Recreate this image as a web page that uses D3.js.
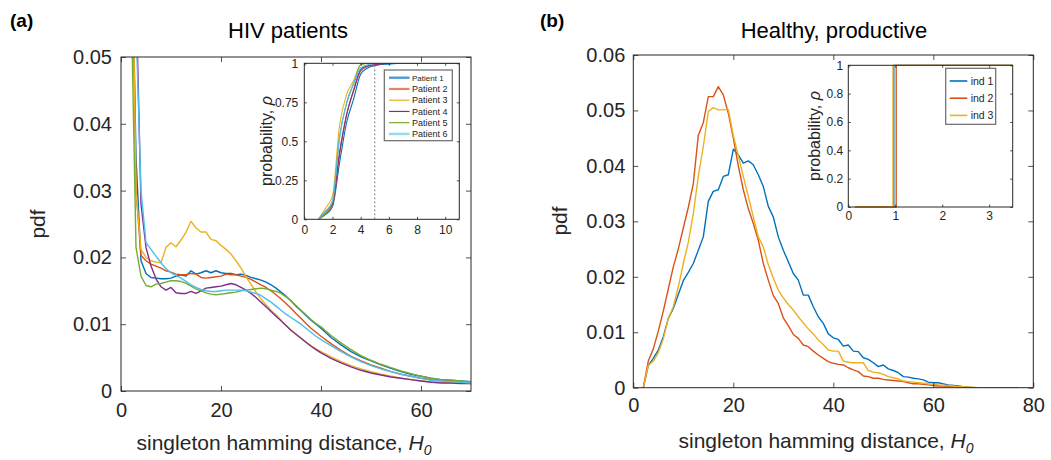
<!DOCTYPE html>
<html>
<head>
<meta charset="utf-8">
<script src="https://cdn.jsdelivr.net/npm/d3@7"></script>
<style>
  body { margin: 0; background: #fff; }
  svg { display: block; }
</style>
</head>
<body>
<svg id="fig" width="1051" height="460"></svg>
<script>
// ---------------- data ----------------
// (a) singleton Hamming distance pdf, HIV patients
const hivH = [1,2,3,4,5,6,7,8,9,10,11,12,13,14,15,16,17,18,19,20,21,22,23,24,25,26,27,28,29,30,31,32,33,34,35,36,37,38,39,40,42,44,46,48,50,52,54,56,58,60,62,64,66,68,70];
const patientNames = ["Patient 1","Patient 2","Patient 3","Patient 4","Patient 5","Patient 6"];
const patient1 = [0.2,0.075,0.035,0.0195,0.0176,0.0170,0.0169,0.0168,0.0168,0.0169,0.0172,0.0174,0.0172,0.0180,0.0175,0.0177,0.0180,0.0177,0.0180,0.0177,0.0176,0.0176,0.0174,0.0175,0.0173,0.0170,0.0168,0.0166,0.0163,0.0159,0.0154,0.0148,0.0142,0.0135,0.0127,0.0120,0.0113,0.0106,0.0100,0.0094,0.0080,0.0069,0.0059,0.0051,0.0045,0.0039,0.0034,0.0029,0.0025,0.0022,0.0019,0.0017,0.0016,0.0015,0.0014];
const patient2 = [0.2,0.08,0.030,0.0203,0.0195,0.0190,0.0187,0.0184,0.0180,0.0178,0.0175,0.0174,0.0174,0.0176,0.0175,0.0170,0.0169,0.0170,0.0171,0.0172,0.0175,0.0174,0.0174,0.0172,0.0170,0.0167,0.0163,0.0159,0.0155,0.0150,0.0144,0.0138,0.0131,0.0124,0.0116,0.0109,0.0101,0.0094,0.0088,0.0082,0.0071,0.0061,0.0052,0.0045,0.0039,0.0034,0.0029,0.0025,0.0022,0.0019,0.0017,0.0016,0.0015,0.0014,0.0013];
const patient3 = [0.2,0.08,0.030,0.0212,0.0200,0.0195,0.0193,0.0192,0.0215,0.0222,0.0216,0.0226,0.0238,0.0254,0.0244,0.0238,0.0238,0.0227,0.0225,0.0218,0.0212,0.0205,0.0195,0.0184,0.0171,0.0160,0.0148,0.0138,0.0129,0.0121,0.0114,0.0106,0.0098,0.0091,0.0085,0.0079,0.0073,0.0068,0.0063,0.0059,0.0051,0.0044,0.0038,0.0033,0.0029,0.0025,0.0022,0.0019,0.0017,0.0015,0.0014,0.0013,0.0012,0.0012,0.0011];
const patient4 = [0.2,0.12,0.06,0.028,0.0215,0.0187,0.0168,0.0156,0.0151,0.0155,0.0147,0.0146,0.0146,0.0149,0.0146,0.0150,0.0154,0.0155,0.0156,0.0157,0.0159,0.0161,0.0159,0.0155,0.0151,0.0146,0.0140,0.0133,0.0126,0.0119,0.0112,0.0105,0.0098,0.0091,0.0085,0.0079,0.0073,0.0067,0.0062,0.0057,0.0049,0.0042,0.0036,0.0031,0.0027,0.0024,0.0021,0.0019,0.0017,0.0015,0.0013,0.0012,0.0012,0.0011,0.0011];
const patient5 = [0.2,0.06,0.0215,0.0172,0.0158,0.0156,0.0160,0.0161,0.0163,0.0165,0.0165,0.0164,0.0161,0.0157,0.0153,0.0150,0.0147,0.0145,0.0144,0.0145,0.0146,0.0147,0.0148,0.0150,0.0151,0.0152,0.0153,0.0154,0.0153,0.0151,0.0149,0.0146,0.0141,0.0135,0.0128,0.0121,0.0114,0.0107,0.0101,0.0096,0.0083,0.0072,0.0062,0.0053,0.0046,0.0040,0.0035,0.0030,0.0026,0.0022,0.0019,0.0017,0.0016,0.0015,0.0014];
const patient6 = [0.2,0.1,0.055,0.030,0.0222,0.0212,0.0202,0.0192,0.0183,0.0177,0.0173,0.0169,0.0164,0.0159,0.0155,0.0152,0.0150,0.0149,0.0149,0.0150,0.0151,0.0151,0.0151,0.0151,0.0150,0.0148,0.0146,0.0143,0.0138,0.0133,0.0127,0.0121,0.0115,0.0110,0.0105,0.0100,0.0094,0.0088,0.0082,0.0077,0.0068,0.0059,0.0051,0.0044,0.0038,0.0033,0.0029,0.0025,0.0022,0.0019,0.0016,0.0015,0.0014,0.0013,0.0012];

// (a) inset: cumulative probability vs threshold
const cdfX = [1,1.5,2,2.5,3,3.5,4,4.5,5,6,7,8,11];
const cdf1 = [0,0.03,0.08,0.36,0.62,0.77,0.93,0.97,0.985,0.995,1,1,1];
const cdf2 = [0,0.04,0.09,0.41,0.67,0.82,0.95,0.98,0.99,1,1,1,1];
const cdf3 = [0,0.07,0.15,0.60,0.80,0.89,0.99,1,1,1,1,1,1];
const cdf4 = [0,0.05,0.10,0.43,0.67,0.83,0.96,0.985,0.99,1,1,1,1];
const cdf5 = [0,0.04,0.11,0.53,0.74,0.87,0.99,1,1,1,1,1,1];
const cdf6 = [0,0.05,0.12,0.52,0.75,0.87,0.97,0.99,1,1,1,1,1];
const cdfThreshold = 5;

// (b) singleton Hamming distance pdf, healthy individuals
const healthyH = [2,3,4,5,6,7,8,9,10,11,12,13,14,15,16,17,18,19,20,21,22,23,24,25,26,27,28,29,30,31,32,33,34,35,36,37,38,39,40,41,42,43,44,45,46,47,48,49,50,51,52,53,54,55,56,57,58,59,60,61,62,63,64,65,66,67,68,69,70,71,72,73,74,75,76,77];
const indNames = ["ind 1","ind 2","ind 3"];
const ind1 = [0,0.0040,0.0053,0.0068,0.0092,0.0125,0.0143,0.0168,0.0193,0.0208,0.0224,0.0248,0.0272,0.0336,0.0354,0.0357,0.0381,0.0384,0.0430,0.0420,0.0405,0.0409,0.0402,0.0384,0.0363,0.0327,0.0308,0.0272,0.0248,0.0227,0.0206,0.0194,0.0167,0.0167,0.0146,0.0128,0.0116,0.0097,0.0090,0.0087,0.0075,0.0077,0.0066,0.0065,0.0054,0.0051,0.0045,0.0038,0.0041,0.0034,0.0031,0.0027,0.0020,0.0019,0.0017,0.0016,0.0014,0.0010,0.0009,0.0009,0.0007,0.0005,0.0004,0.0003,0.0002,0.0001,0];
const ind2 = [0,0.0048,0.0070,0.0102,0.0138,0.0178,0.0218,0.0250,0.0288,0.0325,0.0368,0.0455,0.0478,0.0525,0.0525,0.0543,0.0528,0.0495,0.0450,0.0400,0.0357,0.0323,0.0296,0.0266,0.0224,0.0194,0.0166,0.0152,0.0126,0.0112,0.0096,0.0089,0.0077,0.0074,0.0066,0.0059,0.0053,0.0047,0.0044,0.0042,0.0041,0.0036,0.0032,0.0029,0.0021,0.0020,0.0017,0.0017,0.0015,0.0014,0.0013,0.0012,0.0011,0.0009,0.0007,0.0007,0.0006,0.0005,0.0004,0.0003,0.0003,0.0002,0.0002,0.0001,0.0001,0,0,0,0,0,0,0,0,0,0,0];
const ind3 = [0,0.0040,0.0048,0.0063,0.0088,0.0125,0.0146,0.0182,0.0224,0.0262,0.0314,0.0381,0.0435,0.0498,0.0505,0.0501,0.0501,0.0502,0.0455,0.0418,0.0381,0.0345,0.0308,0.0272,0.0254,0.0222,0.0198,0.0176,0.0162,0.0150,0.0140,0.0128,0.0117,0.0106,0.0097,0.0086,0.0078,0.0068,0.0066,0.0066,0.0048,0.0046,0.0045,0.0045,0.0045,0.0031,0.0028,0.0027,0.0024,0.0020,0.0018,0.0016,0.0012,0.0011,0.0010,0.0009,0.0008,0.0007,0.0006,0.0005,0.0004,0.0004,0.0003,0.0002,0.0002,0.0001,0.0001,0,0,0,0,0];

// (b) inset: step-shaped cumulative probability
const stepX1 = [0.14,0.97,0.97,3.5];
const stepX2 = [0.14,1.02,1.02,3.5];
const stepX3 = [0.14,0.95,0.95,3.5];
const stepY = [0,0,1,1];

// tick values and labels
const ticksAX = [0,20,40,60];
const ticksAY = [0,0.01,0.02,0.03,0.04,0.05];
const labelsAY = ["0","0.01","0.02","0.03","0.04","0.05"];
const ticksAinX = [0,2,4,6,8,10];
const ticksAinY = [0,0.25,0.5,0.75,1];
const labelsAinY = ["0","0.25","0.5","0.75","1"];
const ticksBX = [0,20,40,60,80];
const ticksBY = [0,0.01,0.02,0.03,0.04,0.05,0.06];
const labelsBY = ["0","0.01","0.02","0.03","0.04","0.05","0.06"];
const ticksBinX = [0,1,2,3];
const ticksBinY = [0,0.2,0.4,0.6,0.8,1];
const labelsBinY = ["0","0.2","0.4","0.6","0.8","1"];

const lineColors = ["#0072BD","#D95319","#EDB120","#7E2F8E","#77AC30","#4DBEEE"];

// ---------------- drawing ----------------
const FONT = '"Liberation Sans", Arial, Helvetica, sans-serif';
const INK = "#262626";
const svg = d3.select("#fig").attr("font-family", FONT);
const defs = svg.append("defs");

function makeScales(box, xDom, yDom) {
  return {
    x: d3.scaleLinear().domain(xDom).range([box.x0, box.x1]),
    y: d3.scaleLinear().domain(yDom).range([box.y1, box.y0])
  };
}

function clipFor(id, box) {
  defs.append("clipPath").attr("id", id).append("rect")
    .attr("x", box.x0).attr("y", box.y0)
    .attr("width", box.x1 - box.x0).attr("height", box.y1 - box.y0);
  return `url(#${id})`;
}

function drawLines(g, sc, xs, seriesList, colors, width, curve) {
  seriesList.forEach((vals, i) => {
    const pts = vals.map((v, j) => [xs[j], v]);
    const line = d3.line().x(d => sc.x(d[0])).y(d => sc.y(d[1]));
    if (curve) line.curve(curve);
    g.append("path").attr("d", line(pts))
      .attr("fill", "none").attr("stroke", colors[i])
      .attr("stroke-width", width).attr("stroke-linejoin", "round");
  });
}

function drawAxes(g, sc, o) {
  const [x0, x1] = sc.x.range();
  const [y1, y0] = sc.y.range();
  g.append("g").attr("transform", `translate(0,${y1})`)
    .call(d3.axisBottom(sc.x).tickValues(o.xt).tickFormat(d => String(d))
      .tickSize(-o.tl).tickSizeOuter(0).tickPadding(o.xpad));
  g.append("g").attr("transform", `translate(0,${y0})`)
    .call(d3.axisTop(sc.x).tickValues(o.xt).tickFormat("").tickSize(-o.tl).tickSizeOuter(0));
  g.append("g").attr("transform", `translate(${x0},0)`)
    .call(d3.axisLeft(sc.y).tickValues(o.yt).tickFormat((d, i) => o.yl[i])
      .tickSize(-o.tl).tickSizeOuter(0).tickPadding(o.ypad));
  g.append("g").attr("transform", `translate(${x1},0)`)
    .call(d3.axisRight(sc.y).tickValues(o.yt).tickFormat("").tickSize(-o.tl).tickSizeOuter(0));
  g.selectAll(".domain").remove();
  g.selectAll(".tick line").attr("stroke", INK).attr("stroke-width", 0.8);
  g.selectAll(".tick text").attr("fill", INK).attr("font-size", o.fs).attr("font-family", FONT);
  g.append("rect").attr("x", x0).attr("y", y0).attr("width", x1 - x0).attr("height", y1 - y0)
    .attr("fill", "none").attr("stroke", INK).attr("stroke-width", 1);
}

function xLabel(x, y) {
  const t = svg.append("text").attr("x", x).attr("y", y).attr("text-anchor", "middle")
    .attr("font-size", 21).attr("fill", INK);
  t.append("tspan").text("singleton hamming distance, ");
  t.append("tspan").attr("font-style", "italic").text("H");
  t.append("tspan").attr("font-style", "italic").attr("font-size", 14).attr("dy", 5).text("0");
}

function rotLabel(cx, cy, size, parts) {
  const t = svg.append("text").attr("transform", `translate(${cx},${cy}) rotate(-90)`)
    .attr("text-anchor", "middle").attr("dy", "0.35em").attr("font-size", size).attr("fill", INK);
  parts.forEach(p => t.append("tspan").attr("font-style", p.italic ? "italic" : null).text(p.t));
}

// ---- panel (a) ----
const boxA = { x0: 121, x1: 471, y0: 57, y1: 391 };
const scA = makeScales(boxA, [0, 70], [0, 0.05]);
const gA = svg.append("g");
drawLines(gA.append("g").attr("clip-path", clipFor("clipA", boxA)), scA, hivH,
  [patient1, patient2, patient3, patient4, patient5, patient6], lineColors, 1.4);
drawAxes(gA, scA, { xt: ticksAX, yt: ticksAY, yl: labelsAY, tl: 5, fs: 20, xpad: 12, ypad: 9 });

// inset (a)
const boxAi = { x0: 304.3, x1: 459.3, y0: 63.3, y1: 219.3 };
const scAi = makeScales(boxAi, [0, 11], [0, 1]);
const gAi = svg.append("g");
gAi.append("rect").attr("x", boxAi.x0).attr("y", boxAi.y0)
  .attr("width", boxAi.x1 - boxAi.x0).attr("height", boxAi.y1 - boxAi.y0).attr("fill", "#fff");
const gAiLines = gAi.append("g").attr("clip-path", clipFor("clipAi", boxAi));
drawLines(gAiLines, scAi, cdfX, [cdf1, cdf2, cdf3, cdf4, cdf5, cdf6], lineColors, 1.1, d3.curveMonotoneX);
gAiLines.append("line")
  .attr("x1", scAi.x(cdfThreshold)).attr("x2", scAi.x(cdfThreshold))
  .attr("y1", scAi.y(0)).attr("y2", scAi.y(1))
  .attr("stroke", "#808080").attr("stroke-width", 1).attr("stroke-dasharray", "2,2");
drawAxes(gAi, scAi, { xt: ticksAinX, yt: ticksAinY, yl: labelsAinY, tl: 2.5, fs: 12, xpad: 6, ypad: 6 });

// legend (a)
const legA = svg.append("g");
legA.append("rect").attr("x", 384.3).attr("y", 70).attr("width", 68).attr("height", 70.7)
  .attr("fill", "#fff").attr("stroke", "#6a6a6a").attr("stroke-width", 1.2);
const legAWidths = [2.4, 2.2, 1.2, 1.2, 1.2, 2.4];
const legAOpac = [0.7, 0.7, 1, 1, 1, 0.6];
const legAFont = [8, 9, 9, 9, 9, 9];
patientNames.forEach((name, i) => {
  const yy = 77.7 + i * 11.25;
  legA.append("line").attr("x1", 389).attr("x2", 409.5).attr("y1", yy).attr("y2", yy)
    .attr("stroke", lineColors[i]).attr("stroke-width", legAWidths[i]).attr("stroke-opacity", legAOpac[i]);
  legA.append("text").attr("x", 412).attr("y", yy).attr("dy", "0.35em")
    .attr("font-size", legAFont[i]).attr("fill", INK).text(name);
});

// labels (a)
svg.append("text").attr("x", 10).attr("y", 27).attr("font-size", 19).attr("font-weight", "bold")
  .attr("fill", "#000").text("(a)");
svg.append("text").attr("x", 288).attr("y", 38).attr("text-anchor", "middle")
  .attr("font-size", 22).attr("fill", "#000").text("HIV patients");
xLabel(284, 450);
rotLabel(38, 224, 21, [{ t: "pdf" }]);
rotLabel(266, 141, 16, [{ t: "probability, " }, { t: "ρ", italic: true }]);

// ---- panel (b) ----
const boxB = { x0: 633.3, x1: 1033.3, y0: 55, y1: 387.7 };
const scB = makeScales(boxB, [0, 80], [0, 0.06]);
const gB = svg.append("g");
const gBLines = gB.append("g").attr("clip-path", clipFor("clipB", boxB));
[ind1, ind2, ind3].forEach((vals, i) => {
  drawLines(gBLines, scB, healthyH.slice(0, vals.length), [vals], [lineColors[i]], 1.4);
});
drawAxes(gB, scB, { xt: ticksBX, yt: ticksBY, yl: labelsBY, tl: 5, fs: 20, xpad: 10, ypad: 8 });

// inset (b)
const boxBi = { x0: 848.3, x1: 1012.7, y0: 65.3, y1: 207 };
const scBi = makeScales(boxBi, [0, 3.5], [0, 1]);
const gBi = svg.append("g");
gBi.append("rect").attr("x", boxBi.x0).attr("y", boxBi.y0)
  .attr("width", boxBi.x1 - boxBi.x0).attr("height", boxBi.y1 - boxBi.y0).attr("fill", "#fff");
const gBiLines = gBi.append("g");
[stepX1, stepX2, stepX3].forEach((xs, i) => {
  drawLines(gBiLines, scBi, xs, [stepY], [lineColors[i]], 1.3);
});
drawAxes(gBi, scBi, { xt: ticksBinX, yt: ticksBinY, yl: labelsBinY, tl: 2.5, fs: 12, xpad: 4.5, ypad: 5 });

// legend (b)
const legB = svg.append("g");
legB.append("rect").attr("x", 945.7).attr("y", 68.3).attr("width", 50).attr("height", 56)
  .attr("fill", "#fff").attr("stroke", "#6a6a6a").attr("stroke-width", 1.2);
indNames.forEach((name, i) => {
  const yy = 81 + i * 17.2;
  legB.append("line").attr("x1", 949.7).attr("x2", 967.3).attr("y1", yy).attr("y2", yy)
    .attr("stroke", lineColors[i]).attr("stroke-width", 1.6);
  legB.append("text").attr("x", 970.7).attr("y", yy).attr("dy", "0.35em")
    .attr("font-size", 10.5).attr("fill", INK).text(name);
});

// labels (b)
svg.append("text").attr("x", 540).attr("y", 27).attr("font-size", 19).attr("font-weight", "bold")
  .attr("fill", "#000").text("(b)");
svg.append("text").attr("x", 834).attr("y", 38).attr("text-anchor", "middle")
  .attr("font-size", 22).attr("fill", "#000").text("Healthy, productive");
xLabel(826, 448);
rotLabel(560, 221, 21, [{ t: "pdf" }]);
rotLabel(814, 136, 16, [{ t: "probability, " }, { t: "ρ", italic: true }]);
</script>
</body>
</html>
